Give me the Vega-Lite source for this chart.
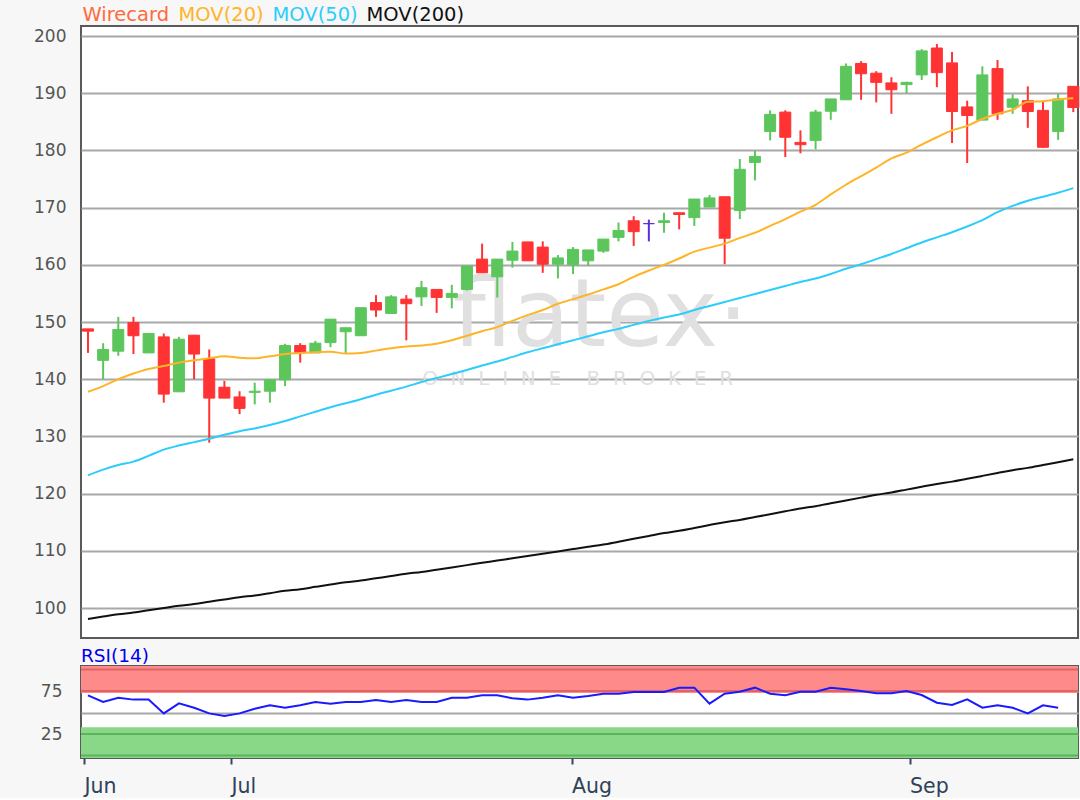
{
  "$schema": "https://vega.github.io/schema/vega-lite/v6.json",
  "background": "#f7f7f7",
  "padding": {"left": 32, "top": 5, "right": 0, "bottom": 0},
  "autosize": {"type": "pad"},
  "config": {
    "font": "DejaVu Sans",
    "view": {"fill": "#ffffff", "stroke": "#5a5a5a", "strokeWidth": 2},
    "axis": {"labelFont": "DejaVu Sans"}
  },
  "spacing": 7,
  "datasets": {
    "ohlc": [
      {"i":0,"open":148.8,"high":148.8,"low":144.6,"close":148.4,"ma20":137.8,"ma50":123.2,"ma200":98.1,"rsi":70},
      {"i":1,"open":143.3,"high":146.3,"low":140.0,"close":145.2,"ma20":138.8,"ma50":124.2,"ma200":98.5,"rsi":62.2},
      {"i":2,"open":144.9,"high":150.9,"low":144.1,"close":148.7,"ma20":140.0,"ma50":125.0,"ma200":98.9,"rsi":67.2},
      {"i":3,"open":149.9,"high":150.9,"low":144.4,"close":147.6,"ma20":141.0,"ma50":125.6,"ma200":99.2,"rsi":65},
      {"i":4,"open":144.6,"high":148.0,"low":144.6,"close":148.0,"ma20":141.8,"ma50":126.6,"ma200":99.6,"rsi":65},
      {"i":5,"open":147.4,"high":148.0,"low":135.9,"close":137.4,"ma20":142.3,"ma50":127.7,"ma200":100.0,"rsi":49},
      {"i":6,"open":137.8,"high":147.4,"low":137.8,"close":147.0,"ma20":142.9,"ma50":128.4,"ma200":100.4,"rsi":60.7},
      {"i":7,"open":147.7,"high":147.7,"low":140.0,"close":144.4,"ma20":143.3,"ma50":129.0,"ma200":100.7,"rsi":55.6},
      {"i":8,"open":143.6,"high":145.2,"low":128.9,"close":136.7,"ma20":143.65,"ma50":129.6,"ma200":101.1,"rsi":49},
      {"i":9,"open":138.6,"high":139.7,"low":136.7,"close":136.7,"ma20":144.0,"ma50":130.3,"ma200":101.5,"rsi":46},
      {"i":10,"open":136.9,"high":137.9,"low":133.9,"close":134.9,"ma20":143.75,"ma50":130.9,"ma200":101.9,"rsi":49},
      {"i":11,"open":137.7,"high":139.4,"low":135.6,"close":137.9,"ma20":143.65,"ma50":131.4,"ma200":102.2,"rsi":54.4},
      {"i":12,"open":137.9,"high":139.9,"low":135.9,"close":139.9,"ma20":144.0,"ma50":132.0,"ma200":102.6,"rsi":58.4},
      {"i":13,"open":139.9,"high":146.2,"low":138.8,"close":145.9,"ma20":144.4,"ma50":132.7,"ma200":103.0,"rsi":55.6},
      {"i":14,"open":145.9,"high":146.3,"low":142.9,"close":144.6,"ma20":144.6,"ma50":133.5,"ma200":103.3,"rsi":58.4},
      {"i":15,"open":144.6,"high":146.7,"low":144.6,"close":146.3,"ma20":144.7,"ma50":134.3,"ma200":103.7,"rsi":62.2},
      {"i":16,"open":146.4,"high":150.5,"low":145.6,"close":150.5,"ma20":144.8,"ma50":135.1,"ma200":104.1,"rsi":60.3},
      {"i":17,"open":148.3,"high":149.0,"low":144.6,"close":149.0,"ma20":144.5,"ma50":135.8,"ma200":104.5,"rsi":62.2},
      {"i":18,"open":147.6,"high":152.5,"low":147.6,"close":152.5,"ma20":144.6,"ma50":136.5,"ma200":104.8,"rsi":62.2},
      {"i":19,"open":153.4,"high":154.7,"low":150.9,"close":152.1,"ma20":145.0,"ma50":137.3,"ma200":105.2,"rsi":64.5},
      {"i":20,"open":151.5,"high":154.7,"low":151.5,"close":154.4,"ma20":145.4,"ma50":138.0,"ma200":105.6,"rsi":62.2},
      {"i":21,"open":154.0,"high":154.7,"low":146.8,"close":153.2,"ma20":145.7,"ma50":138.7,"ma200":106.0,"rsi":64.5},
      {"i":22,"open":154.4,"high":157.2,"low":152.8,"close":156.0,"ma20":145.9,"ma50":139.5,"ma200":106.3,"rsi":62.2},
      {"i":23,"open":155.7,"high":155.7,"low":151.6,"close":154.3,"ma20":146.2,"ma50":140.2,"ma200":106.7,"rsi":62.2},
      {"i":24,"open":154.3,"high":156.5,"low":152.4,"close":155.0,"ma20":146.8,"ma50":140.9,"ma200":107.1,"rsi":67.2},
      {"i":25,"open":155.7,"high":159.8,"low":155.5,"close":159.8,"ma20":147.6,"ma50":141.6,"ma200":107.5,"rsi":67.2},
      {"i":26,"open":161.0,"high":163.7,"low":158.6,"close":158.6,"ma20":148.4,"ma50":142.4,"ma200":107.9,"rsi":70},
      {"i":27,"open":157.9,"high":161.0,"low":154.3,"close":161.0,"ma20":149.1,"ma50":143.1,"ma200":108.3,"rsi":70},
      {"i":28,"open":160.8,"high":164.0,"low":159.5,"close":162.4,"ma20":150.2,"ma50":143.9,"ma200":108.7,"rsi":66.5},
      {"i":29,"open":164.0,"high":164.0,"low":160.7,"close":160.7,"ma20":151.2,"ma50":144.7,"ma200":109.1,"rsi":65},
      {"i":30,"open":163.1,"high":164.1,"low":158.6,"close":160.1,"ma20":152.1,"ma50":145.4,"ma200":109.5,"rsi":67.2},
      {"i":31,"open":160.1,"high":161.7,"low":157.6,"close":161.2,"ma20":153.2,"ma50":146.1,"ma200":109.9,"rsi":70},
      {"i":32,"open":160.0,"high":163.1,"low":158.4,"close":162.7,"ma20":154.0,"ma50":146.8,"ma200":110.3,"rsi":67.2},
      {"i":33,"open":160.7,"high":162.6,"low":159.8,"close":162.6,"ma20":154.8,"ma50":147.5,"ma200":110.7,"rsi":69.2},
      {"i":34,"open":162.4,"high":164.5,"low":162.1,"close":164.5,"ma20":155.7,"ma50":148.2,"ma200":111.1,"rsi":71.9},
      {"i":35,"open":164.8,"high":167.4,"low":164.1,"close":166.0,"ma20":156.6,"ma50":148.8,"ma200":111.6,"rsi":71.9},
      {"i":36,"open":167.7,"high":168.5,"low":163.3,"close":165.8,"ma20":157.9,"ma50":149.5,"ma200":112.1,"rsi":73.8},
      {"i":37,"open":167.2,"high":167.9,"low":164.1,"close":167.2,"ma20":159.0,"ma50":150.2,"ma200":112.6,"rsi":73.8},
      {"i":38,"open":167.4,"high":169.1,"low":165.6,"close":167.7,"ma20":160.0,"ma50":150.8,"ma200":113.1,"rsi":73.8},
      {"i":39,"open":169.1,"high":169.1,"low":166.2,"close":168.8,"ma20":161.1,"ma50":151.3,"ma200":113.5,"rsi":78.9},
      {"i":40,"open":168.25,"high":171.5,"low":166.8,"close":171.5,"ma20":162.3,"ma50":152.1,"ma200":114.0,"rsi":78.9},
      {"i":41,"open":170.1,"high":172.2,"low":170.1,"close":171.7,"ma20":163.0,"ma50":152.8,"ma200":114.5,"rsi":60.3},
      {"i":42,"open":171.9,"high":171.9,"low":160.1,"close":164.65,"ma20":163.7,"ma50":153.5,"ma200":115.0,"rsi":71.9},
      {"i":43,"open":169.5,"high":178.5,"low":168.0,"close":176.7,"ma20":164.7,"ma50":154.2,"ma200":115.4,"rsi":74.2},
      {"i":44,"open":177.9,"high":180.0,"low":174.75,"close":178.95,"ma20":165.6,"ma50":154.9,"ma200":115.9,"rsi":78.9},
      {"i":45,"open":183.3,"high":187.0,"low":181.75,"close":186.3,"ma20":166.8,"ma50":155.6,"ma200":116.4,"rsi":71.9},
      {"i":46,"open":186.7,"high":187.0,"low":178.85,"close":182.3,"ma20":168.0,"ma50":156.3,"ma200":116.9,"rsi":70},
      {"i":47,"open":181.4,"high":183.5,"low":179.5,"close":181.0,"ma20":169.3,"ma50":157.0,"ma200":117.4,"rsi":74.2},
      {"i":48,"open":181.75,"high":187.1,"low":180.2,"close":186.7,"ma20":170.5,"ma50":157.6,"ma200":117.8,"rsi":74.2},
      {"i":49,"open":186.85,"high":189.0,"low":185.35,"close":189.0,"ma20":172.3,"ma50":158.4,"ma200":118.3,"rsi":78.9},
      {"i":50,"open":188.85,"high":195.2,"low":188.85,"close":194.7,"ma20":174.0,"ma50":159.3,"ma200":118.8,"rsi":77},
      {"i":51,"open":195.2,"high":195.6,"low":188.85,"close":193.4,"ma20":175.5,"ma50":160.1,"ma200":119.3,"rsi":75},
      {"i":52,"open":193.5,"high":193.85,"low":188.4,"close":191.9,"ma20":177.0,"ma50":161.0,"ma200":119.8,"rsi":72.3},
      {"i":53,"open":191.8,"high":192.8,"low":186.4,"close":190.6,"ma20":178.6,"ma50":161.9,"ma200":120.2,"rsi":72.3},
      {"i":54,"open":191.5,"high":192.0,"low":190.0,"close":191.9,"ma20":179.6,"ma50":162.9,"ma200":120.7,"rsi":75},
      {"i":55,"open":193.2,"high":197.7,"low":192.3,"close":197.4,"ma20":181.0,"ma50":163.9,"ma200":121.2,"rsi":70.3},
      {"i":56,"open":197.9,"high":198.6,"low":191.05,"close":193.6,"ma20":182.3,"ma50":164.8,"ma200":121.7,"rsi":61.4},
      {"i":57,"open":195.3,"high":197.2,"low":181.3,"close":186.8,"ma20":183.5,"ma50":165.7,"ma200":122.1,"rsi":58.7},
      {"i":58,"open":187.6,"high":188.7,"low":177.8,"close":186.1,"ma20":184.3,"ma50":166.7,"ma200":122.6,"rsi":65.3},
      {"i":59,"open":185.3,"high":194.7,"low":185.3,"close":193.2,"ma20":185.5,"ma50":167.8,"ma200":123.1,"rsi":55.6},
      {"i":60,"open":194.3,"high":195.8,"low":185.35,"close":186.4,"ma20":186.4,"ma50":169.2,"ma200":123.6,"rsi":58.4},
      {"i":61,"open":187.55,"high":189.8,"low":186.4,"close":189.0,"ma20":187.1,"ma50":170.3,"ma200":124.1,"rsi":55.6},
      {"i":62,"open":188.7,"high":191.2,"low":183.95,"close":186.8,"ma20":188.5,"ma50":171.2,"ma200":124.5,"rsi":49},
      {"i":63,"open":187.0,"high":188.7,"low":180.45,"close":180.55,"ma20":188.6,"ma50":171.9,"ma200":125.0,"rsi":58.4},
      {"i":64,"open":183.3,"high":189.9,"low":181.85,"close":189.0,"ma20":188.9,"ma50":172.6,"ma200":125.5,"rsi":55.6},
      {"i":65,"open":191.2,"high":191.2,"low":186.7,"close":187.5,"ma20":189.1,"ma50":173.4,"ma200":126.0,"rsi":null}
    ]
  },
  "vconcat": [
    {
      "width": 997,
      "height": 612,
      "layer": [
        {
          "data": {"values": [{"t": "flatex\u00b7"}]},
          "mark": {"type": "text", "fontSize": 94, "fontWeight": "normal", "fill": "#e0e0e0", "font": "DejaVu Sans", "baseline": "alphabetic", "align": "center"},
          "encoding": {
            "x": {"datum": 33.8, "type": "quantitative", "scale": {"domain": [-0.46, 65.31], "nice": false, "zero": false, "padding": 0}, "axis": null},
            "y": {"datum": 145.8, "type": "quantitative", "scale": {"domain": [94.76, 201.75], "nice": false, "zero": false},
              "axis": {"values": [100,110,120,130,140,150,160,170,180,190,200], "grid": true, "gridColor": "#a8a8a8", "gridWidth": 2, "ticks": false, "domain": false, "labelFontSize": 17, "labelColor": "#555555", "labelPadding": 15, "title": null}},
            "text": {"field": "t", "type": "nominal"}
          }
        },
        {
          "data": {"values": [{"t": "O\u00a0\u00a0N\u00a0\u00a0L\u00a0\u00a0I\u00a0\u00a0N\u00a0\u00a0E\u00a0\u00a0\u00a0\u00a0B\u00a0\u00a0R\u00a0\u00a0O\u00a0\u00a0K\u00a0\u00a0E\u00a0\u00a0R"}]},
          "mark": {"type": "text", "fontSize": 20, "fill": "#e0e0e0", "font": "DejaVu Sans", "baseline": "middle", "align": "center"},
          "encoding": {
            "x": {"datum": 32.3, "type": "quantitative"},
            "y": {"datum": 140, "type": "quantitative"},
            "text": {"field": "t", "type": "nominal"}
          }
        },
        {
          "data": {"name": "ohlc"},
          "mark": {"type": "rule", "strokeWidth": 2},
          "encoding": {
            "x": {"field": "i", "type": "quantitative"},
            "y": {"field": "low", "type": "quantitative"},
            "y2": {"field": "high"},
            "color": {"condition": [{"test": "datum.close > datum.open", "value": "#5cc65c"}, {"test": "datum.close < datum.open", "value": "#ff3333"}], "value": "#5a2ee0"}
          }
        },
        {
          "data": {"name": "ohlc"},
          "mark": {"type": "bar", "size": 11, "strokeWidth": 1},
          "encoding": {
            "x": {"field": "i", "type": "quantitative"},
            "y": {"field": "open", "type": "quantitative"},
            "y2": {"field": "close"},
            "color": {"condition": [{"test": "datum.close > datum.open", "value": "#5cc65c"}, {"test": "datum.close < datum.open", "value": "#ff3333"}], "value": "#5a2ee0"},
            "stroke": {"condition": [{"test": "datum.close > datum.open", "value": "#5cc65c"}, {"test": "datum.close < datum.open", "value": "#ff3333"}], "value": "#5a2ee0"}
          }
        },
        {
          "data": {"name": "ohlc"},
          "transform": [{"fold": ["ma20", "ma50", "ma200"], "as": ["series", "ma"]}],
          "mark": {"type": "line", "strokeWidth": 2, "interpolate": "monotone"},
          "encoding": {
            "x": {"field": "i", "type": "quantitative"},
            "y": {"field": "ma", "type": "quantitative"},
            "color": {
              "field": "series", "type": "nominal",
              "scale": {"domain": ["Wirecard", "ma20", "ma50", "ma200"], "range": ["#ff6a3d", "#ffb428", "#2ccdfb", "#111111"]},
              "legend": {
                "orient": "none", "legendX": -7, "legendY": -21, "direction": "horizontal", "title": null,
                "symbolOpacity": 0, "symbolSize": 0, "symbolStrokeWidth": 0, "labelOffset": -11, "columnPadding": 0,
                "labelFontSize": 19.5, "labelFont": "DejaVu Sans", "labelLimit": 0,
                "labelColor": {"expr": "datum.value == 'Wirecard' ? '#ff6a3d' : datum.value == 'ma20' ? '#ffb428' : datum.value == 'ma50' ? '#2ccdfb' : '#111111'"},
                "labelExpr": "datum.value == 'ma20' ? 'MOV(20)' : datum.value == 'ma50' ? 'MOV(50)' : datum.value == 'ma200' ? 'MOV(200)' : datum.label"
              }
            }
          }
        }
      ]
    },
    {
      "width": 997,
      "height": 92,
      "title": {"text": "RSI(14)", "anchor": "start", "frame": "group", "color": "#0000ee", "fontSize": 18.5, "fontWeight": "normal", "font": "DejaVu Sans", "offset": 0.5},
      "layer": [
        {
          "data": {"values": [{}]},
          "mark": {"type": "rect", "color": "#ff8a8a"},
          "encoding": {
            "x": {"datum": -0.46, "type": "quantitative"},
            "x2": {"datum": 65.31},
            "y": {"datum": 72.7, "type": "quantitative", "scale": {"domain": [-2.9, 104.1], "nice": false, "zero": false},
              "axis": {"values": [25, 50, 75], "labelExpr": "datum.value == 50 ? '' : datum.label", "grid": true, "gridColor": "#a8a8a8", "gridWidth": 2, "ticks": false, "domain": false, "labelFontSize": 17, "labelColor": "#555555", "labelPadding": 19, "title": null}},
            "y2": {"datum": 104.1}
          }
        },
        {
          "data": {"values": [{}]},
          "mark": {"type": "rect", "color": "#88d888"},
          "encoding": {
            "x": {"datum": -0.46, "type": "quantitative"},
            "x2": {"datum": 65.31},
            "y": {"datum": -2.9, "type": "quantitative"},
            "y2": {"datum": 33}
          }
        },
        {
          "data": {"values": [{"v": 100}, {"v": 75}]},
          "mark": {"type": "rule", "color": "#e06464", "strokeWidth": 2},
          "encoding": {"y": {"field": "v", "type": "quantitative"}}
        },
        {
          "data": {"values": [{"v": 25}, {"v": 0}]},
          "mark": {"type": "rule", "color": "#5fb05f", "strokeWidth": 2},
          "encoding": {"y": {"field": "v", "type": "quantitative"}}
        },
        {
          "data": {"name": "ohlc"},
          "mark": {"type": "line", "color": "#1a1aff", "strokeWidth": 2},
          "encoding": {
            "x": {"field": "i", "type": "quantitative", "scale": {"domain": [-0.46, 65.31], "nice": false, "zero": false, "padding": 0},
              "axis": {"values": [-0.26, 9.43, 31.9, 54.2], "labelExpr": "datum.value < 0 ? 'Jun' : datum.value < 20 ? 'Jul' : datum.value < 40 ? 'Aug' : 'Sep'", "grid": false, "domain": false, "tickColor": "#34495e", "tickSize": 6, "tickWidth": 2, "labelColor": "#2f4257", "labelFontSize": 20.5, "labelAlign": "left", "labelPadding": 12, "labelFlush": false, "title": null}},
            "y": {"field": "rsi", "type": "quantitative"}
          }
        }
      ]
    }
  ]
}
